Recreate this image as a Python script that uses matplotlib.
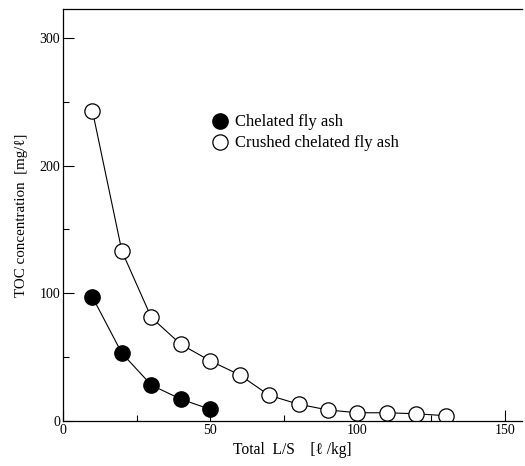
import matplotlib.pyplot as plt
from matplotlib.ticker import MultipleLocator

plt.rcParams['font.family'] = ['Liberation Serif', 'DejaVu Serif']

# TOC leaching results
ls_chelated = [10, 20, 30, 40, 50]
toc_chelated = [97, 53, 28, 17, 9]

ls_crushed = [10, 20, 30, 40, 50, 60, 70, 80, 90, 100, 110, 120, 130]
toc_crushed = [243, 133, 81, 60, 47, 36, 20, 13, 8.5, 6.3, 6.3, 5.5, 4]

fig = plt.figure(figsize=(5.25, 4.66), dpi=100)
ax = fig.add_axes([0.12, 0.097, 0.875, 0.884])

ax.plot(ls_chelated, toc_chelated, '-o', color='black', lw=0.8,
        ms=11, mfc='black', mec='black', label='Chelated fly ash')
ax.plot(ls_crushed, toc_crushed, '-o', color='black', lw=0.8,
        ms=11, mfc='white', mec='black', mew=0.9,
        label='Crushed chelated fly ash')

ax.set_xlim(0, 156)
ax.set_ylim(0, 323)
ax.xaxis.set_major_locator(MultipleLocator(50))
ax.xaxis.set_minor_locator(MultipleLocator(25))
ax.yaxis.set_major_locator(MultipleLocator(100))
ax.yaxis.set_minor_locator(MultipleLocator(50))
ax.tick_params(which='major', direction='in', length=8, width=0.8,
               labelsize=10, pad=2)
ax.tick_params(which='minor', direction='in', length=4, width=0.8)
ax.tick_params(axis='y', which='both', right=False)
ax.tick_params(axis='x', which='both', top=False)

ax.spines['right'].set_visible(False)
for s in ['left', 'bottom', 'top']:
    ax.spines[s].set_linewidth(0.9)

ax.set_xlabel('Total  L/S    [\u2113 /kg]', fontsize=11.2, labelpad=4)
ax.set_ylabel('TOC concentration  [mg/\u2113]', fontsize=10.8, labelpad=8)

ax.legend(loc='upper left', bbox_to_anchor=(0.295, 0.78), frameon=False,
          fontsize=12, handlelength=0.8, handletextpad=0.5,
          labelspacing=0.3, numpoints=1)

fig.savefig('out.png', dpi=100)
